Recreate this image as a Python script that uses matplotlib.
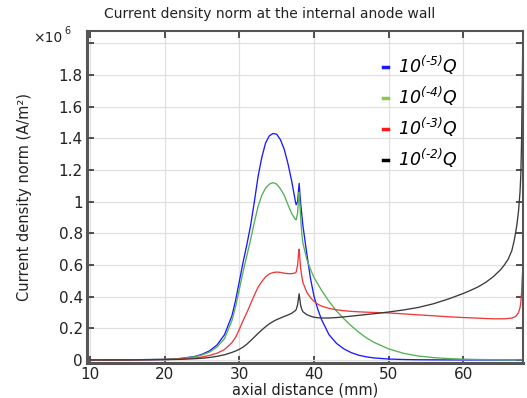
import matplotlib
matplotlib.use("Agg")
import matplotlib.pyplot as plt
from matplotlib.ticker import FixedLocator, FuncFormatter

plt.rcParams['mathtext.fontset'] = 'custom'
plt.rcParams['mathtext.rm'] = 'DejaVu Sans:italic'
plt.rcParams['mathtext.it'] = 'DejaVu Sans:italic'
plt.rcParams['mathtext.default'] = 'rm'

# axial distance (mm)
x_mm = [10, 15, 20, 22, 24, 25, 26, 27, 28, 29,
        29.5, 30, 30.5, 31, 31.5, 32, 32.5, 33, 33.5, 34,
        34.5, 35, 35.5, 36, 36.5, 37, 37.5, 37.6, 37.8, 37.9,
        38.0, 38.1, 38.2, 38.35, 38.5, 39, 39.5, 40, 40.5, 41,
        42, 43, 44, 45, 46, 47, 48, 50, 52, 54,
        56, 58, 60, 61, 62, 63, 64, 65, 65.5, 66,
        66.5, 66.8, 67, 67.2, 67.4, 67.6, 67.7, 67.8, 67.9, 68]

# current density norm (x 1e6 A/m^2)
q_1e5 = [0.0005, 0.001, 0.004, 0.009, 0.022, 0.036, 0.058, 0.095, 0.16, 0.28,
         0.38, 0.5, 0.62, 0.73, 0.85, 1.0, 1.16, 1.28, 1.37, 1.415,
         1.43, 1.425, 1.39, 1.33, 1.24, 1.13, 1.0, 0.98, 1.0, 1.06,
         1.115, 1.05, 0.99, 0.92, 0.85, 0.68, 0.52, 0.40, 0.32, 0.255,
         0.16, 0.105, 0.07, 0.046, 0.03, 0.02, 0.013, 0.006, 0.003, 0.0015,
         0.001, 0.0006, 0.0004, 0.0003, 0.0003, 0.0002, 0.0002, 0.0002, 0.0002, 0.0002,
         0.0002, 0.0002, 0.0002, 0.0002, 0.0002, 0.0002, 0.0002, 0.0002, 0.0002, 0.0002]

q_1e4 = [0.0005, 0.001, 0.004, 0.009, 0.02, 0.032, 0.05, 0.082, 0.135, 0.25,
         0.34, 0.45, 0.56, 0.66, 0.76, 0.87, 0.97, 1.04, 1.085, 1.11,
         1.12, 1.11, 1.08, 1.04, 0.98, 0.925, 0.887, 0.885, 0.93, 1.0,
         1.06, 0.98, 0.9, 0.8, 0.74, 0.64, 0.575, 0.52, 0.48, 0.44,
         0.37, 0.31, 0.26, 0.215, 0.175, 0.14, 0.112, 0.07, 0.042, 0.025,
         0.015, 0.009, 0.005, 0.004, 0.003, 0.0025, 0.002, 0.0015, 0.0013, 0.0012,
         0.001, 0.001, 0.001, 0.001, 0.001, 0.001, 0.001, 0.001, 0.001, 0.001]

q_1e3 = [0.0003, 0.0008, 0.003, 0.006, 0.013, 0.019, 0.029, 0.043, 0.066, 0.11,
         0.145, 0.195, 0.25, 0.3, 0.355, 0.41, 0.46, 0.495, 0.525, 0.543,
         0.552, 0.555, 0.553, 0.548, 0.545, 0.545, 0.55, 0.555, 0.6, 0.66,
         0.70, 0.64, 0.58, 0.53, 0.49, 0.43, 0.395, 0.37, 0.352, 0.34,
         0.326, 0.317, 0.311, 0.307, 0.304, 0.302, 0.30, 0.297, 0.291, 0.285,
         0.279, 0.273, 0.268, 0.266, 0.264, 0.262, 0.26, 0.26, 0.26, 0.262,
         0.265, 0.27, 0.275, 0.285, 0.3, 0.33, 0.36, 0.42, 0.52, 0.59]

q_1e2 = [0.0002, 0.0005, 0.002, 0.004, 0.008, 0.011, 0.016, 0.023, 0.033, 0.048,
         0.057, 0.068, 0.082, 0.1, 0.122, 0.145, 0.168, 0.19, 0.21, 0.228,
         0.243, 0.255, 0.265, 0.275, 0.284, 0.295, 0.312, 0.318, 0.35, 0.385,
         0.418, 0.38, 0.345, 0.32, 0.305, 0.287, 0.277, 0.27, 0.267, 0.265,
         0.265, 0.268, 0.272, 0.277, 0.282, 0.287, 0.292, 0.303, 0.316, 0.332,
         0.355, 0.385, 0.42, 0.44, 0.462, 0.49, 0.525, 0.57, 0.6, 0.635,
         0.69, 0.75, 0.8, 0.86, 0.94, 1.06, 1.16, 1.36, 1.72, 2.1]

series = [
    (q_1e5, '$10^{(\u20105)}Q$', '#1a1aff', '#1a1aff'),
    (q_1e4, '$10^{(\u20104)}Q$', '#55b055', '#8cc84b'),
    (q_1e3, '$10^{(\u20103)}Q$', '#ee3a3a', '#ff1a1a'),
    (q_1e2, '$10^{(\u20102)}Q$', '#3a3a3a', '#000000'),
]

x_ticks = [10, 20, 30, 40, 50, 60]
y_ticks = [0, 0.2, 0.4, 0.6, 0.8, 1.0, 1.2, 1.4, 1.6, 1.8, 2.0]

fig = plt.figure(figsize=(5.27, 3.98), dpi=100)
ax = fig.add_axes([87 / 527, 1 - 363 / 398, (523 - 87) / 527, (363 - 31) / 398])

lines = []
for vals, lab, col, _ in series:
    ln, = ax.plot(x_mm, vals, color=col, lw=0.95, label=lab)
    lines.append(ln)

ax.set_xlim(9.57, 68.0)
ax.set_ylim(-0.019, 2.077)
ax.xaxis.set_major_locator(FixedLocator(x_ticks))
ax.yaxis.set_major_locator(FixedLocator(y_ticks))
ax.yaxis.set_major_formatter(FuncFormatter(lambda v, p: '' if v > 1.9 else ('%g' % round(v, 1))))
ax.grid(True, color='#e0e0e0', lw=0.9)
ax.set_axisbelow(True)

ax.tick_params(direction='in', length=5, width=1.2, colors='#333333',
               top=True, right=True, labelsize=11, pad=3)
ax.tick_params(axis='x', labelcolor='#222222')
ax.tick_params(axis='y', labelcolor='#222222')

for side in ['left', 'bottom']:
    ax.spines[side].set_linewidth(2.2)
    ax.spines[side].set_color('#555555')
for side in ['top', 'right']:
    ax.spines[side].set_linewidth(1.5)
    ax.spines[side].set_color('#555555')

ax.set_xlabel('axial distance (mm)', fontsize=10.5, color='#222222', labelpad=0)
ax.set_ylabel('Current density norm (A/m\u00b2)', fontsize=10.5, color='#222222', labelpad=19)
fig.text(270 / 527, 1 - 14 / 398, 'Current density norm at the internal anode wall',
         ha='center', va='center', fontsize=10, color='#222222')
fig.text(33 / 527, 1 - 38 / 398, '\u00d710', ha='left', va='center',
         fontsize=10, color='#222222')
fig.text(64 / 527, 1 - 31 / 398, '6', ha='left', va='center',
         fontsize=7, color='#222222')

leg = ax.legend(handles=lines, loc='upper left', bbox_to_anchor=(374 / 527, 1 - 45 / 398),
                bbox_transform=fig.transFigure, frameon=False, fontsize=12.5,
                handlelength=0.3, handletextpad=0.6, labelspacing=0.45, borderpad=0)
for h, (_, _, _, lc) in zip(leg.legend_handles, series):
    h.set_color(lc)
    h.set_linewidth(2.5)

fig.savefig('out.png', dpi=100)
